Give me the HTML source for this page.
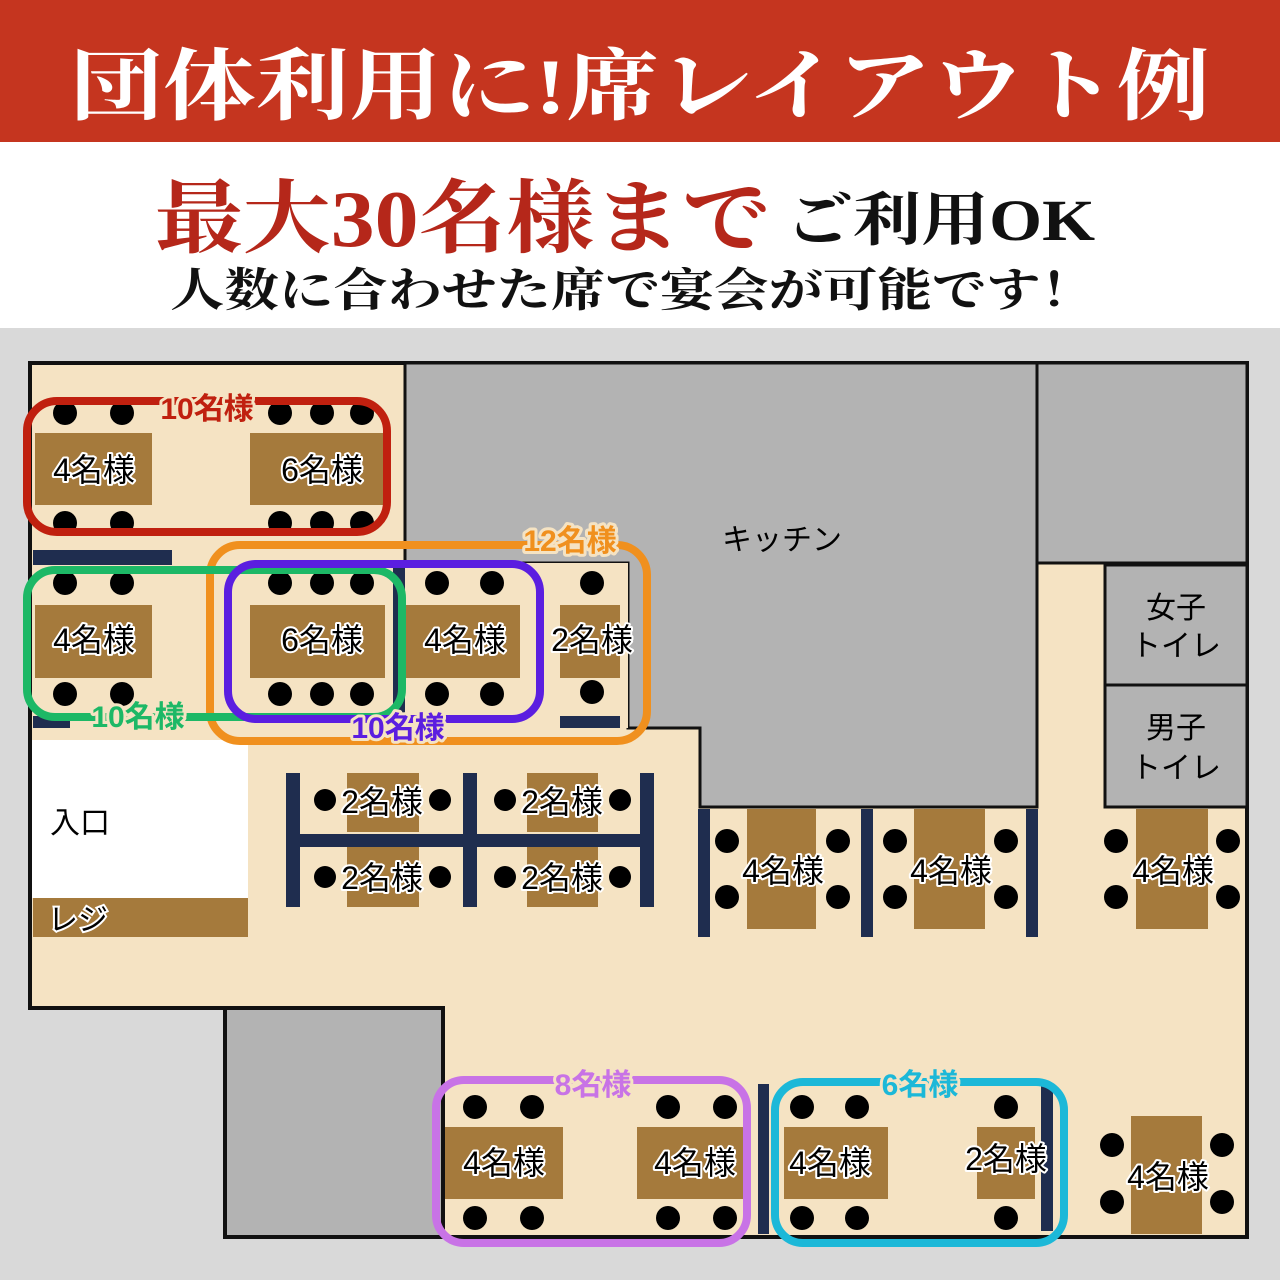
<!DOCTYPE html>
<html><head><meta charset="utf-8"><style>
html,body{margin:0;padding:0;background:#fff}
svg{display:block}
</style></head><body>
<svg width="1280" height="1280" viewBox="0 0 1280 1280" xmlns="http://www.w3.org/2000/svg" font-family="'Liberation Sans','Noto Sans CJK JP',sans-serif">
<rect x="0" y="0" width="1280" height="142" fill="#c5351f"/>
<text x="640" y="113" fill="#fff" font-family="'Liberation Serif','Noto Serif CJK SC',serif" font-weight="bold" font-size="78" text-anchor="middle" textLength="1140" lengthAdjust="spacingAndGlyphs">団体利用に!席レイアウト例</text>
<text x="155" y="246" fill="#b5271a" font-family="'Liberation Serif','Noto Serif CJK SC',serif" font-weight="bold" font-size="80" textLength="615" lengthAdjust="spacingAndGlyphs">最大30名様まで</text>
<text x="785" y="240" fill="#111" font-family="'Liberation Serif','Noto Serif CJK SC',serif" font-weight="bold" font-size="58" textLength="310" lengthAdjust="spacingAndGlyphs">ご利用OK</text>
<text x="170" y="306" fill="#111" font-family="'Liberation Serif','Noto Serif CJK SC',serif" font-weight="bold" font-size="46" textLength="925" lengthAdjust="spacingAndGlyphs">人数に合わせた席で宴会が可能です！</text>
<rect x="0" y="328" width="1280" height="952" fill="#d9d9d9"/>
<!-- floor -->
<polygon points="30,363 1247,363 1247,1237 443,1237 443,1008 30,1008" fill="#f5e3c3" stroke="#111" stroke-width="4"/>
<rect x="225" y="1008" width="218" height="229" fill="#b3b3b3" stroke="#111" stroke-width="4"/>
<polygon points="405,363 1037,363 1037,807 700,807 700,728 628,728 628,563 405,563" fill="#b3b3b3" stroke="#111" stroke-width="3"/>
<rect x="1037" y="363" width="210" height="200" fill="#b3b3b3" stroke="#111" stroke-width="3"/>
<rect x="1105" y="565" width="142" height="120" fill="#b3b3b3" stroke="#111" stroke-width="3"/>
<rect x="1105" y="685" width="142" height="122" fill="#b3b3b3" stroke="#111" stroke-width="3"/>
<rect x="405" y="563" width="223" height="165" fill="#f5e3c3"/>
<rect x="32" y="740" width="216" height="158" fill="#fff"/>
<rect x="33" y="898" width="215" height="39" fill="#a57a3c"/>
<!-- partitions -->
<g fill="#1f2d4f">
<rect x="33" y="550" width="139" height="15"/>
<rect x="393" y="563" width="12" height="167"/>
<rect x="33" y="716" width="37" height="12"/>
<rect x="560" y="716" width="60" height="12"/>
<rect x="286" y="773" width="14" height="134"/>
<rect x="463" y="773" width="14" height="134"/>
<rect x="640" y="773" width="14" height="134"/>
<rect x="286" y="834" width="368" height="13"/>
<rect x="698" y="809" width="12" height="128"/>
<rect x="861" y="809" width="12" height="128"/>
<rect x="1026" y="809" width="12" height="128"/>
<rect x="758" y="1084" width="11" height="150"/>
<rect x="1041" y="1084" width="12" height="147"/>
</g>
<!-- tables -->
<g fill="#a57a3c">
<rect x="35" y="433" width="117" height="72"/>
<rect x="250" y="433" width="135" height="72"/>
<rect x="35" y="605" width="117" height="73"/>
<rect x="250" y="605" width="135" height="73"/>
<rect x="405" y="605" width="115" height="73"/>
<rect x="560" y="605" width="60" height="73"/>
<rect x="347" y="773" width="72" height="59"/>
<rect x="527" y="773" width="71" height="59"/>
<rect x="347" y="847" width="72" height="60"/>
<rect x="527" y="847" width="71" height="60"/>
<rect x="747" y="809" width="69" height="120"/>
<rect x="914" y="809" width="71" height="120"/>
<rect x="1136" y="809" width="72" height="120"/>
<rect x="445" y="1127" width="118" height="72"/>
<rect x="637" y="1127" width="106" height="72"/>
<rect x="784" y="1127" width="104" height="72"/>
<rect x="977" y="1127" width="58" height="72"/>
<rect x="1131" y="1116" width="71" height="118"/>
</g>
<!-- chairs -->
<g fill="#000">
<circle cx="65" cy="413" r="12"/><circle cx="122" cy="413" r="12"/><circle cx="280" cy="413" r="12"/><circle cx="322" cy="413" r="12"/><circle cx="362" cy="413" r="12"/>
<circle cx="65" cy="523" r="12"/><circle cx="122" cy="523" r="12"/><circle cx="280" cy="523" r="12"/><circle cx="322" cy="523" r="12"/><circle cx="362" cy="523" r="12"/>
<circle cx="65" cy="583" r="12"/><circle cx="122" cy="583" r="12"/><circle cx="280" cy="583" r="12"/><circle cx="322" cy="583" r="12"/><circle cx="362" cy="583" r="12"/><circle cx="437" cy="583" r="12"/><circle cx="492" cy="583" r="12"/><circle cx="592" cy="583" r="12"/>
<circle cx="65" cy="694" r="12"/><circle cx="122" cy="694" r="12"/><circle cx="280" cy="694" r="12"/><circle cx="322" cy="694" r="12"/><circle cx="362" cy="694" r="12"/><circle cx="437" cy="694" r="12"/><circle cx="492" cy="694" r="12"/><circle cx="592" cy="692" r="12"/>
<circle cx="325" cy="800" r="11"/><circle cx="440" cy="800" r="11"/><circle cx="505" cy="800" r="11"/><circle cx="620" cy="800" r="11"/>
<circle cx="325" cy="877" r="11"/><circle cx="440" cy="877" r="11"/><circle cx="505" cy="877" r="11"/><circle cx="620" cy="877" r="11"/>
<circle cx="727" cy="841" r="12"/><circle cx="838" cy="841" r="12"/><circle cx="727" cy="897" r="12"/><circle cx="838" cy="897" r="12"/>
<circle cx="895" cy="841" r="12"/><circle cx="1006" cy="841" r="12"/><circle cx="895" cy="897" r="12"/><circle cx="1006" cy="897" r="12"/>
<circle cx="1116" cy="841" r="12"/><circle cx="1228" cy="841" r="12"/><circle cx="1116" cy="897" r="12"/><circle cx="1228" cy="897" r="12"/>
<circle cx="475" cy="1107" r="12"/><circle cx="532" cy="1107" r="12"/><circle cx="668" cy="1107" r="12"/><circle cx="725" cy="1107" r="12"/>
<circle cx="475" cy="1218" r="12"/><circle cx="532" cy="1218" r="12"/><circle cx="668" cy="1218" r="12"/><circle cx="725" cy="1218" r="12"/>
<circle cx="802" cy="1107" r="12"/><circle cx="857" cy="1107" r="12"/><circle cx="1006" cy="1107" r="12"/>
<circle cx="802" cy="1218" r="12"/><circle cx="857" cy="1218" r="12"/><circle cx="1006" cy="1218" r="12"/>
<circle cx="1112" cy="1145" r="12"/><circle cx="1222" cy="1145" r="12"/><circle cx="1112" cy="1202" r="12"/><circle cx="1222" cy="1202" r="12"/>
</g>
<!-- group outlines -->
<g fill="none" stroke-width="8">
<rect x="210" y="545" width="437" height="196" rx="30" stroke="#f0901e"/>
<rect x="27" y="570" width="375" height="147" rx="28" stroke="#1db866"/>
<rect x="228" y="564" width="312" height="155" rx="28" stroke="#5b1ee0"/>
<rect x="27" y="401" width="360" height="131" rx="30" stroke="#c0200f"/>
<rect x="436" y="1080" width="311" height="163" rx="28" stroke="#c873e6"/>
<rect x="775" y="1082" width="289" height="161" rx="28" stroke="#1cb8d8"/>
</g>
<!-- group labels -->
<g font-weight="bold" font-size="30" text-anchor="middle" stroke="#f5e3c3" stroke-width="6" paint-order="stroke" stroke-linejoin="round">
<text x="207" y="419" fill="#c0200f">10名様</text>
<text x="570" y="551" fill="#f0901e">12名様</text>
<text x="138" y="727" fill="#1db866">10名様</text>
<text x="398" y="738" fill="#5b1ee0">10名様</text>
<text x="593" y="1095" fill="#c873e6">8名様</text>
<text x="920" y="1095" fill="#1cb8d8">6名様</text>
</g>
<!-- table labels -->
<g font-size="32" fill="#000" stroke="#fff" stroke-width="4" paint-order="stroke" stroke-linejoin="round" text-anchor="middle">
<text x="94" y="481">4名様</text>
<text x="322" y="481">6名様</text>
<text x="94" y="651">4名様</text>
<text x="322" y="651">6名様</text>
<text x="465" y="651">4名様</text>
<text x="592" y="651">2名様</text>
<text x="382" y="813">2名様</text>
<text x="562" y="813">2名様</text>
<text x="382" y="889">2名様</text>
<text x="562" y="889">2名様</text>
<text x="783" y="882">4名様</text>
<text x="951" y="882">4名様</text>
<text x="1173" y="882">4名様</text>
<text x="504" y="1174">4名様</text>
<text x="695" y="1174">4名様</text>
<text x="830" y="1174">4名様</text>
<text x="1006" y="1170">2名様</text>
<text x="1168" y="1188">4名様</text>
</g>
<g font-size="30" fill="#000" text-anchor="middle">
<text x="782" y="550">キッチン</text>
<text x="1176" y="618">女子</text>
<text x="1176" y="656">トイレ</text>
<text x="1176" y="738">男子</text>
<text x="1176" y="778">トイレ</text>
<text x="80" y="833">入口</text>
</g>
<text x="48" y="930" font-size="30" fill="#000" stroke="#fff" stroke-width="4" paint-order="stroke">レジ</text>
</svg>
</body></html>
